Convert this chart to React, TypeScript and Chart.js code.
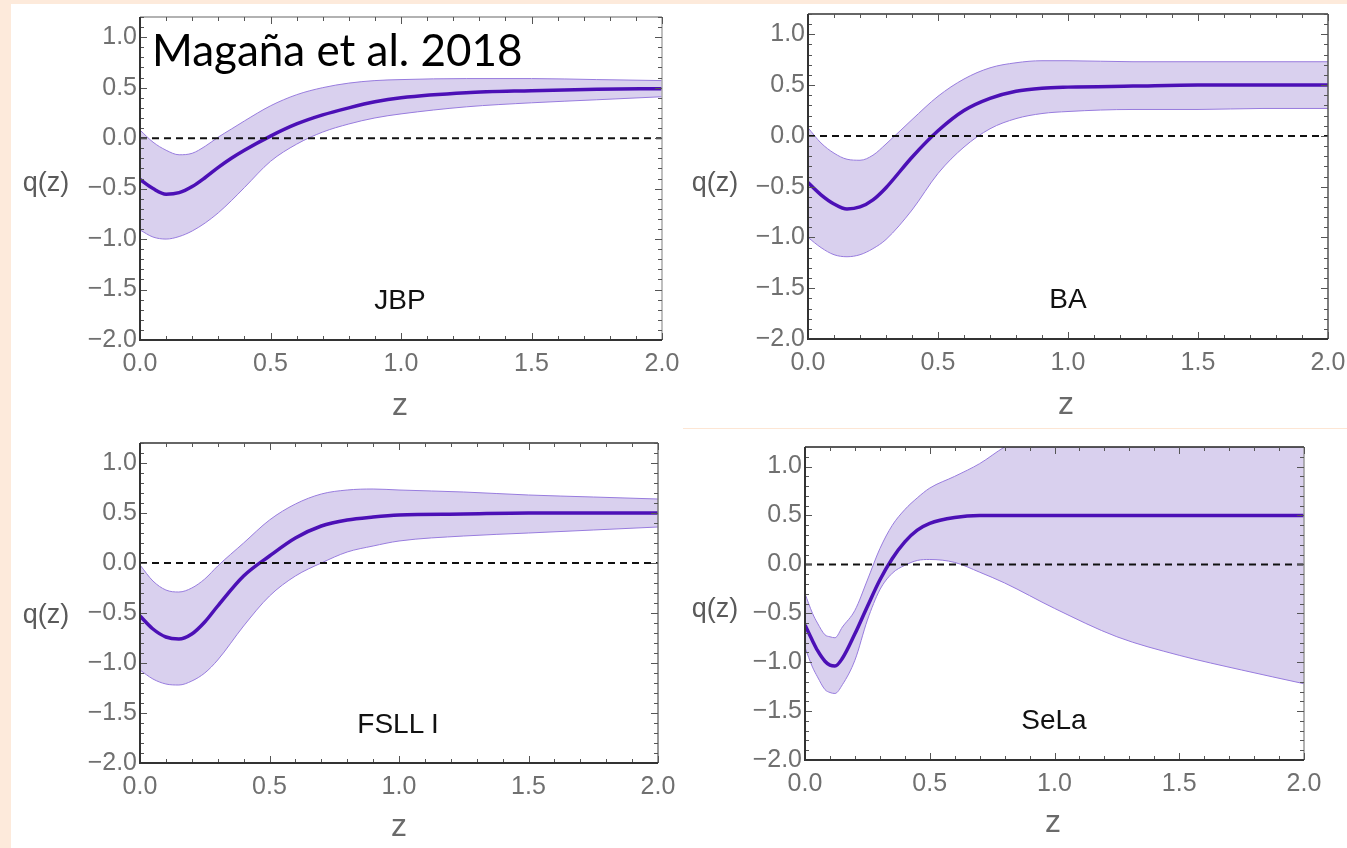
import React, { useEffect, useRef } from 'react';
import { Chart, registerables } from 'chart.js';
Chart.register(...registerables);

// ---------- data ----------
const jbpZ = [0, 0.05, 0.1, 0.15, 0.2, 0.25, 0.3, 0.35, 0.4, 0.5, 0.6, 0.7, 0.8, 0.9, 1.0, 1.25, 1.5, 1.75, 2.0];
const jbpMid = [-0.41, -0.5, -0.555, -0.54, -0.48, -0.39, -0.29, -0.2, -0.12, 0.02, 0.14, 0.23, 0.3, 0.36, 0.4, 0.45, 0.47, 0.485, 0.49];
const jbpUp = [0.08, -0.04, -0.12, -0.165, -0.15, -0.08, 0.01, 0.09, 0.17, 0.32, 0.43, 0.5, 0.545, 0.57, 0.58, 0.59, 0.59, 0.58, 0.57];
const jbpLo = [-0.91, -0.98, -1.0, -0.975, -0.92, -0.84, -0.74, -0.62, -0.49, -0.23, -0.06, 0.06, 0.14, 0.2, 0.24, 0.31, 0.35, 0.38, 0.41];

const baZ = [0, 0.05, 0.1, 0.15, 0.2, 0.25, 0.3, 0.4, 0.5, 0.6, 0.7, 0.8, 0.9, 1.0, 1.25, 1.5, 1.75, 2.0];
const baMid = [-0.46, -0.58, -0.67, -0.72, -0.7, -0.63, -0.51, -0.21, 0.05, 0.25, 0.37, 0.44, 0.47, 0.48, 0.49, 0.5, 0.5, 0.5];
const baUp = [0.08, -0.07, -0.17, -0.23, -0.24, -0.19, -0.08, 0.16, 0.39, 0.56, 0.67, 0.72, 0.74, 0.74, 0.73, 0.73, 0.73, 0.73];
const baLo = [-1.0, -1.1, -1.17, -1.19, -1.17, -1.11, -1.02, -0.73, -0.37, -0.11, 0.07, 0.17, 0.22, 0.24, 0.26, 0.26, 0.27, 0.27];

const fsZ = [0, 0.05, 0.1, 0.15, 0.2, 0.25, 0.3, 0.4, 0.5, 0.6, 0.7, 0.8, 0.9, 1.0, 1.25, 1.5, 1.75, 2.0];
const fsMid = [-0.53, -0.66, -0.74, -0.76, -0.71, -0.59, -0.43, -0.13, 0.07, 0.25, 0.37, 0.43, 0.46, 0.48, 0.49, 0.5, 0.5, 0.5];
const fsUp = [-0.02, -0.18, -0.27, -0.29, -0.25, -0.16, -0.03, 0.2, 0.43, 0.59, 0.69, 0.73, 0.74, 0.73, 0.71, 0.68, 0.66, 0.64];
const fsLo = [-1.07, -1.16, -1.21, -1.22, -1.18, -1.1, -0.97, -0.63, -0.33, -0.13, 0.0, 0.11, 0.17, 0.22, 0.27, 0.3, 0.33, 0.36];

const slZ = [0, 0.03, 0.05, 0.08, 0.1, 0.12, 0.15, 0.2, 0.25, 0.3, 0.35, 0.4, 0.45, 0.5, 0.6, 0.7, 0.8, 1.0, 1.25, 1.5, 1.75, 2.0];
const slMid = [-0.62, -0.78, -0.88, -0.99, -1.03, -1.04, -0.96, -0.71, -0.43, -0.16, 0.06, 0.23, 0.35, 0.42, 0.48, 0.5, 0.5, 0.5, 0.5, 0.5, 0.5, 0.5];
const slUp = [-0.3, -0.5, -0.6, -0.72, -0.74, -0.75, -0.64, -0.47, -0.16, 0.16, 0.4, 0.56, 0.68, 0.78, 0.9, 1.03, 1.2, 1.45, 1.8, 2.1, 2.4, 2.7];
const slLo = [-0.85, -1.05, -1.15, -1.28, -1.31, -1.32, -1.23, -0.98, -0.57, -0.26, -0.09, -0.01, 0.04, 0.05, 0.02, -0.08, -0.19, -0.45, -0.74, -0.93, -1.08, -1.22];

const zeroZ = [0, 2];
const zeroQ = [0, 0];

const xTickValues = [0, 0.5, 1.0, 1.5, 2.0];
const yTickValues = [-2.0, -1.5, -1.0, -0.5, 0.0, 0.5, 1.0];

const panelNames = ['JBP', 'BA', 'FSLL I', 'SeLa'];

// ---------- styling ----------
const FILL = 'rgb(217,208,238)';
const EDGE = 'rgb(152,124,222)';
const MID = 'rgb(76,16,182)';
const TICKTXT = 'rgb(112,112,112)';

type Box = { L: number; T: number; R: number; B: number };

const frameTicks = {
  id: 'frameTicks',
  afterDatasetsDraw(chart: any, _args: any, opts: any) {
    const { ctx, chartArea: a, scales } = chart;
    const xs = scales.x;
    const ys = scales.y;
    ctx.save();
    ctx.lineCap = 'butt';
    ctx.strokeStyle = opts.topColor || '#444';
    ctx.lineWidth = 1.5;
    ctx.beginPath();
    ctx.moveTo(a.left, a.top);
    ctx.lineTo(a.right, a.top);
    ctx.stroke();
    ctx.strokeStyle = opts.rightColor || '#888';
    ctx.lineWidth = 1.5;
    ctx.beginPath();
    ctx.moveTo(a.right, a.top);
    ctx.lineTo(a.right, a.bottom);
    ctx.stroke();
    ctx.strokeStyle = '#555';
    ctx.lineWidth = 1;
    ctx.beginPath();
    for (let i = 0; i <= 20; i++) {
      const px = Math.round(xs.getPixelForValue(i / 10)) + 0.5;
      const len = i % 5 === 0 ? 7 : 4;
      ctx.moveTo(px, a.bottom);
      ctx.lineTo(px, a.bottom - len);
      ctx.moveTo(px, a.top);
      ctx.lineTo(px, a.top + len);
    }
    for (let i = -20; i <= 12; i++) {
      const py = Math.round(ys.getPixelForValue(i / 10)) + 0.5;
      const len = i % 5 === 0 ? 7 : 4;
      ctx.moveTo(a.left, py);
      ctx.lineTo(a.left + len, py);
      ctx.moveTo(a.right, py);
      ctx.lineTo(a.right - len, py);
    }
    ctx.stroke();
    ctx.strokeStyle = '#333';
    ctx.lineWidth = 2;
    ctx.beginPath();
    ctx.moveTo(a.left, a.top);
    ctx.lineTo(a.left, a.bottom);
    ctx.lineTo(a.right, a.bottom);
    ctx.stroke();
    ctx.restore();
  },
};

const PADL = 130;
const PADT = 20;
const PADR = 40;
const PADB = 50;

function Panel(props: { box: Box; z: number[]; mid: number[]; up: number[]; lo: number[]; topColor: string; rightColor: string }) {
  const ref = useRef<HTMLCanvasElement | null>(null);
  const { box, z, mid, up, lo } = props;
  const w = box.R - box.L + PADL + PADR;
  const h = box.B - box.T + PADT + PADB;
  useEffect(() => {
    if (!ref.current) return;
    const pts = (ys: number[], xs: number[]) => xs.map((x, i) => ({ x, y: ys[i] }));
    const fmt = (v: number) => (v < 0 ? '\u2212' : '') + Math.abs(v).toFixed(1);
    const chart = new Chart(ref.current, {
      type: 'line',
      data: {
        datasets: [
          {
            data: pts(zeroQ, zeroZ),
            borderColor: '#111',
            borderWidth: 2,
            borderDash: [7, 5],
            pointRadius: 0,
            fill: false,
            order: 0,
          },
          {
            data: pts(mid, z),
            borderColor: MID,
            borderWidth: 3.5,
            pointRadius: 0,
            cubicInterpolationMode: 'monotone',
            fill: false,
            order: 1,
          },
          {
            data: pts(up, z),
            borderColor: EDGE,
            borderWidth: 1,
            pointRadius: 0,
            cubicInterpolationMode: 'monotone',
            backgroundColor: FILL,
            fill: '+1',
            order: 2,
          },
          {
            data: pts(lo, z),
            borderColor: EDGE,
            borderWidth: 1,
            pointRadius: 0,
            cubicInterpolationMode: 'monotone',
            fill: false,
            order: 3,
          },
        ],
      },
      options: {
        animation: false,
        responsive: false,
        maintainAspectRatio: false,
        events: [],
        layout: { padding: { left: 0, top: PADT, right: PADR, bottom: 0 } },
        plugins: {
          legend: { display: false },
          tooltip: { enabled: false },
          filler: { drawTime: 'beforeDatasetsDraw' },
          frameTicks: { topColor: props.topColor, rightColor: props.rightColor },
        } as any,
        scales: {
          x: {
            type: 'linear',
            min: 0,
            max: 2,
            grid: { display: false, drawTicks: false },
            border: { display: false },
            afterBuildTicks: (s: any) => {
              s.ticks = xTickValues.map((v) => ({ value: v }));
            },
            ticks: {
              autoSkip: false,
              maxRotation: 0,
              padding: 9,
              color: TICKTXT,
              font: { family: 'Liberation Sans', size: 25 },
              callback: (v: any) => fmt(Number(v)),
            },
            afterFit: (s: any) => {
              s.height = PADB;
            },
          },
          y: {
            type: 'linear',
            min: -2,
            max: 1.2,
            grid: { display: false, drawTicks: false },
            border: { display: false },
            afterBuildTicks: (s: any) => {
              s.ticks = yTickValues.map((v) => ({ value: v }));
            },
            ticks: {
              autoSkip: false,
              padding: 3,
              color: TICKTXT,
              font: { family: 'Liberation Sans', size: 25 },
              callback: (v: any) => fmt(Number(v)),
            },
            afterFit: (s: any) => {
              s.width = PADL;
            },
          },
        },
      },
      plugins: [frameTicks],
    } as any);
    return () => chart.destroy();
  }, []);
  return (
    <canvas
      ref={ref}
      width={w}
      height={h}
      style={{ position: 'absolute', left: box.L - PADL, top: box.T - PADT, width: w, height: h }}
    />
  );
}

const txt = (s: string, x: number, y: number, size: number, color: string) => (
  <div
    style={{
      position: 'absolute',
      left: x,
      top: y,
      transform: 'translate(-50%, -50%)',
      fontFamily: 'Liberation Sans, Arial, sans-serif',
      fontSize: size,
      lineHeight: 1,
      color,
      whiteSpace: 'nowrap',
    }}
  >
    {s}
  </div>
);

export default function App() {
  const boxes: Box[] = [
    { L: 140, T: 17, R: 662, B: 340 },
    { L: 808, T: 14, R: 1328, B: 339 },
    { L: 140, T: 443, R: 658, B: 763 },
    { L: 805, T: 447, R: 1304, B: 760 },
  ];
  return (
    <div style={{ position: 'fixed', left: 0, top: 0, width: 1347, height: 848, background: '#fdeadb', overflow: 'hidden' }}>
      <div style={{ position: 'absolute', left: 11, top: 4, width: 1336, height: 844, background: '#ffffff' }} />
      <div style={{ position: 'absolute', left: 683, top: 428, width: 664, height: 1, background: '#fde6d4' }} />
      <Panel box={boxes[0]} z={jbpZ} mid={jbpMid} up={jbpUp} lo={jbpLo} topColor="#999" rightColor="#aaa" />
      <Panel box={boxes[1]} z={baZ} mid={baMid} up={baUp} lo={baLo} topColor="#333" rightColor="#555" />
      <Panel box={boxes[2]} z={fsZ} mid={fsMid} up={fsUp} lo={fsLo} topColor="#333" rightColor="#777" />
      <Panel box={boxes[3]} z={slZ} mid={slMid} up={slUp} lo={slLo} topColor="#222" rightColor="#999" />
      {txt('q(z)', 46, 182, 27, '#5a5a5a')}
      {txt('q(z)', 715, 182, 27, '#5a5a5a')}
      {txt('q(z)', 46, 614, 27, '#5a5a5a')}
      {txt('q(z)', 715, 608, 27, '#5a5a5a')}
      {txt('z', 400, 404, 32, '#6a6a6a')}
      {txt('z', 1066, 403, 32, '#6a6a6a')}
      {txt('z', 399, 825, 32, '#6a6a6a')}
      {txt('z', 1053, 821, 32, '#6a6a6a')}
      {txt(panelNames[0], 400, 300, 28, '#111')}
      {txt(panelNames[1], 1068, 299, 28, '#111')}
      {txt(panelNames[2], 398, 724, 28, '#111')}
      {txt(panelNames[3], 1054, 720, 28, '#111')}
      <div
        style={{
          position: 'absolute',
          left: 152,
          top: 23,
          fontFamily: 'Lato, sans-serif',
          fontSize: 44,
          lineHeight: 1.2,
          color: '#000',
          whiteSpace: 'nowrap',
        }}
      >
        Magaña et al. 2018
      </div>
    </div>
  );
}
